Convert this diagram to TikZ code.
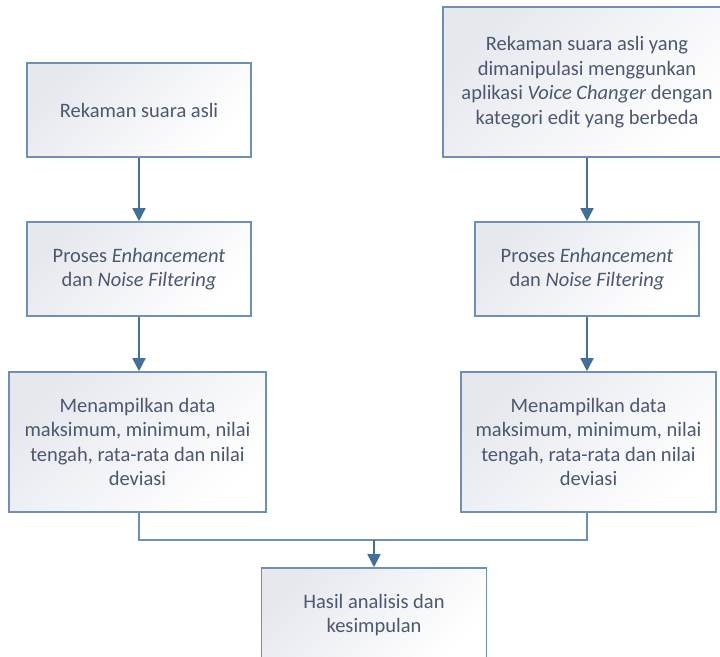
\documentclass[tikz,border=0pt]{standalone}
\usepackage{fontspec}
\setmainfont{Carlito}
\usepackage{xcolor}
\usepackage{tikz}
\usetikzlibrary{arrows.meta,calc}

\definecolor{boxline}{HTML}{6E90B8}
\definecolor{arrowblue}{HTML}{41709C}
\definecolor{boxshade}{HTML}{E6E8EE}
\definecolor{textgray}{HTML}{4A5870}

\tikzset{
  stepbox/.style={draw=boxline, line width=1.6pt, top color=boxshade, bottom color=white,
    shading angle=45, text=textgray, align=center, inner sep=0pt,
    font=\fontsize{20.5}{24.5}\selectfont},
  arr/.style={draw=arrowblue, line width=1.6pt, -{Triangle[width=13pt,length=13pt]}},
  link/.style={draw=boxline, line width=1.6pt}
}

\begin{document}
\begin{tikzpicture}[x=1pt,y=-1pt]
    \useasboundingbox (0,0) rectangle (720,656);
    % left column
    \node[stepbox, minimum width=224pt, minimum height=94pt] (asli) at (139,110) {Rekaman suara asli};
    \node[stepbox, minimum width=224pt, minimum height=94pt] (prosesA) at (139,269)
      {Proses \textit{Enhancement}\\ dan \textit{Noise Filtering}};
    \node[stepbox, minimum width=257pt, minimum height=140pt] (dataA) at (137.5,442)
      {Menampilkan data\\ maksimum, minimum, nilai\\ tengah, rata-rata dan nilai\\ deviasi};
    % right column
    \node[stepbox, minimum width=288pt, minimum height=150pt] (manip) at (587,82)
      {Rekaman suara asli yang\\ dimanipulasi menggunkan\\ aplikasi \textit{Voice Changer} dengan\\ kategori edit yang berbeda};
    \node[stepbox, minimum width=224pt, minimum height=94pt] (prosesB) at (587,269)
      {Proses \textit{Enhancement}\\ dan \textit{Noise Filtering}};
    \node[stepbox, minimum width=255pt, minimum height=140pt] (dataB) at (588.5,442)
      {Menampilkan data\\ maksimum, minimum, nilai\\ tengah, rata-rata dan nilai\\ deviasi};
    % result
    \node[stepbox, minimum width=225pt, minimum height=94pt] (hasil) at (374,615)
      {Hasil analisis dan\\ kesimpulan};
    \coordinate (join) at (374,540);
    % arrows
    \draw[arr] (asli) -- (prosesA);
    \draw[arr] (prosesA) -- (dataA.north -| prosesA);
    \draw[arr] (manip) -- (prosesB);
    \draw[arr] (prosesB) -- (dataB.north -| prosesB);
    \draw[link] (dataA.south -| prosesA) |- (join) -| (dataB.south -| prosesB);
    \draw[arr] (join) -- (hasil);
  \end{tikzpicture}
\end{document}
